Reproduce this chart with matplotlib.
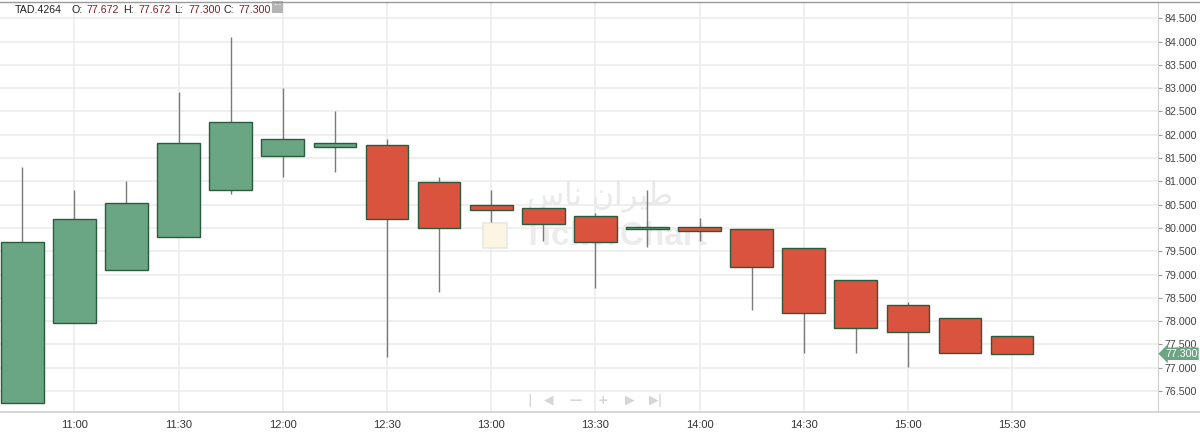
import matplotlib
matplotlib.use("Agg")
import matplotlib.pyplot as plt
import matplotlib.dates as mdates
import matplotlib.transforms as mtransforms
from matplotlib.lines import Line2D
from matplotlib.patches import Rectangle
import pandas as pd

# 15 minute candles
times = ["10:45", "11:00", "11:15", "11:30", "11:45", "12:00", "12:15", "12:30",
         "12:45", "13:00", "13:15", "13:30", "13:45", "14:00", "14:15", "14:30",
         "14:45", "15:00", "15:15", "15:30"]
opens = [76.25, 77.97, 79.09, 79.81, 80.82, 81.55, 81.73, 81.78, 80.98, 80.50,
         80.43, 80.25, 79.97, 80.02, 79.97, 79.57, 78.89, 78.35, 78.07, 77.672]
highs = [81.30, 80.82, 81.00, 82.91, 84.09, 83.00, 82.50, 81.91, 81.10, 80.82,
         80.43, 80.32, 80.82, 80.21, 79.97, 79.57, 78.89, 78.41, 78.07, 77.672]
lows = [76.25, 77.95, 79.09, 79.81, 80.73, 81.10, 81.21, 77.22, 78.62, 80.12,
        79.71, 78.72, 79.60, 79.71, 78.23, 77.31, 77.31, 77.01, 77.31, 77.30]
closes = [79.69, 80.19, 80.53, 81.83, 82.28, 81.91, 81.83, 80.20, 80.00, 80.39,
          80.09, 79.70, 80.03, 79.93, 79.16, 78.17, 77.85, 77.76, 77.31, 77.30]

symbol = "TAD.4264"
last_price = 77.300
tick_times = ["11:00", "11:30", "12:00", "12:30", "13:00", "13:30", "14:00", "14:30", "15:00", "15:30"]
watermark_ar = "\uFEB1\uFE8E\uFEE7 \uFEE5\uFE8D\uFEAE\uFEF4\uFEC3"  # طيران ناس (shaped, visual order)

green = "#6aa684"
red = "#d9533f"
edge = "#2c5a3c"
font = "Liberation Sans"

day = "2024-01-01 "
x = mdates.date2num(pd.to_datetime([day + t for t in times]))
step = 15 / (24 * 60)

fig = plt.figure(figsize=(12, 4.33), dpi=100)
ax = fig.add_axes([0, 21 / 433, 1158 / 1200, 410 / 433])

# grid
ax.set_yticks([76.5 + 0.5 * i for i in range(17)])
ax.set_xticks(mdates.date2num(pd.to_datetime([day + t for t in tick_times])))
ax.xaxis.set_major_formatter(mdates.DateFormatter("%H:%M"))
ax.grid(True, color="#ebebeb", linewidth=1.1, zorder=0)
ax.set_axisbelow(True)

# candles
for xi, o, h, l, c in zip(x, opens, highs, lows, closes):
    col = green if c >= o else red
    ax.vlines(xi, l, h, color="#7a7a7a", linewidth=1.0, zorder=2)
    ax.bar(xi, c - o, bottom=o, width=step * 0.82, color=col,
           edgecolor=edge, linewidth=1.0, zorder=3)

ax.set_xlim(x[0] - step * 0.428, x[0] + step * 21.8)
ax.set_ylim(76.05, 84.85)

ax.yaxis.tick_right()
ax.tick_params(axis="y", length=3, width=0.8, color="#999999", pad=2,
               labelsize=7.7, labelcolor="#444444")
ax.tick_params(axis="x", length=0, pad=6, labelsize=8, labelcolor="#333333")
for lab in ax.get_xticklabels() + ax.get_yticklabels():
    lab.set_fontfamily(font)
ax.yaxis.set_major_formatter(plt.FuncFormatter(lambda v, p: f"{v:.3f}"))
for s in ax.spines.values():
    s.set_visible(False)
ax.spines["right"].set_visible(True)
ax.spines["right"].set_color("#d0d0d0")

# frame lines across full width
fig.add_artist(Line2D([0, 1], [1 - 1.5 / 433] * 2, color="#9a9a9a", linewidth=1.0))
fig.add_artist(Line2D([0, 1], [21 / 433] * 2, color="#d0d0d0", linewidth=1.2))

# watermark
ax.text(0.518, 0.527, watermark_ar, transform=ax.transAxes, ha="center", va="center",
        fontsize=22, color="#e9e9e9", family="DejaVu Sans", zorder=1)
ax.text(0.531, 0.429, "TickerChart", transform=ax.transAxes, ha="center", va="center",
        fontsize=24, fontweight="bold", color="#ececec", family=font, zorder=1)
ax.add_patch(Rectangle((483 / 1158, (412 - 248) / 410), 24 / 1158, 25 / 410,
                       transform=ax.transAxes, facecolor="#fbf5e2", edgecolor="#e8e8e8",
                       linewidth=1.2, zorder=1))

# navigation buttons
nav = [(530, "|"), (549, "\u25C0"), (576, "\u2014"), (603, "+"), (630, "\u25B6"), (656, "\u25B6|")]
for px, sym in nav:
    ax.text(px / 1158, 0.029, sym, transform=ax.transAxes, ha="center", va="center",
            fontsize=9, color="#d6d6d6", family="DejaVu Sans", fontweight="bold")

# last price tag
trans = mtransforms.blended_transform_factory(ax.transAxes, ax.transData)
ax.text(1165 / 1158, last_price, f"{last_price:.3f}", transform=trans, ha="left", va="center",
        fontsize=7.7, color="white", family=font, clip_on=False, zorder=5,
        bbox=dict(boxstyle="larrow,pad=0.12", facecolor=green, edgecolor="none"))

# header
yh = 1 - 10 / 433
parts = [(15, symbol, "#222222"), (72, "O:", "#222222"), (86, f"{opens[-1]:.3f}", "#8b1c1c"),
         (123, "H:", "#222222"), (138, f"{highs[-1]:.3f}", "#8b1c1c"),
         (174, "L:", "#222222"), (188, f"{lows[-1]:.3f}", "#8b1c1c"),
         (224, "C:", "#222222"), (238, f"{closes[-1]:.3f}", "#8b1c1c")]
for px, txt, col in parts:
    fig.text(px / 1200, yh, txt, ha="left", va="center", fontsize=7.7, color=col, family=font)
fig.add_artist(Rectangle((272 / 1200, 1 - 13 / 433), 11 / 1200, 12 / 433,
                         transform=fig.transFigure, facecolor="#b5b5b5", edgecolor="none"))
fig.text(277.5 / 1200, 1 - 6 / 433, "\u00B7\u00B7\u00B7", ha="center", va="center",
         fontsize=6, color="white", family=font, fontweight="bold")

fig.savefig("out.png", dpi=100)
